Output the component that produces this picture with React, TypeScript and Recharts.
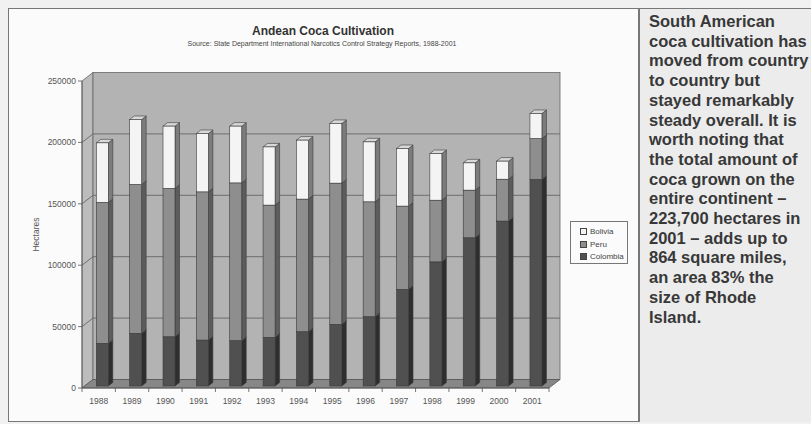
import React from 'react';
import { BarChart, Bar, XAxis, YAxis, ReferenceArea, Legend } from 'recharts';

// values (hectares)
const years = ['1988', '1989', '1990', '1991', '1992', '1993', '1994', '1995', '1996', '1997', '1998', '1999', '2000', '2001'];
const colombia = [34700, 42900, 40100, 37400, 36900, 39600, 44200, 50200, 56400, 78700, 101100, 120700, 134300, 168200];
const peru = [114800, 121200, 120800, 120700, 128500, 107700, 108000, 115000, 93600, 67800, 50200, 38800, 34100, 33300];
const bolivia = [48500, 52900, 50700, 47500, 46200, 47400, 48000, 48600, 48800, 46900, 38000, 22200, 14700, 20400];
const yTicks = [0, 50000, 100000, 150000, 200000, 250000];
const legendOrder = ['Bolivia', 'Peru', 'Colombia'];

const noteLines = [
  'South American',
  'coca cultivation has',
  'moved from country',
  'to country but',
  'stayed remarkably',
  'steady overall. It is',
  'worth noting that',
  'the total amount of',
  'coca grown on the',
  'entire continent –',
  '223,700 hectares in',
  '2001 – adds up to',
  '864 square miles,',
  'an area 83% the',
  'size of Rhode',
  'Island.',
];

const data = years.map((year, i) => ({
  year,
  Colombia: colombia[i],
  Peru: peru[i],
  Bolivia: bolivia[i],
}));

const Y_MAX = yTicks[yTicks.length - 1];
const PLOT_W = 467;
const BAND = PLOT_W / years.length;

// fake 3D depth
const WALL_DX = 11;
const WALL_DY = -8.5;
const BAR_DX = 4.5;
const BAR_DY = -3.5;

const Walls = (props: any) => {
  const { x, y, width, height } = props;
  const bottom = y + height;
  const grid = yTicks.filter((v) => v > 0 && v < Y_MAX);
  return (
    <g>
      <polygon
        points={`${x},${y} ${x + WALL_DX},${y + WALL_DY} ${x + WALL_DX},${bottom + WALL_DY} ${x},${bottom}`}
        fill="#bcbcbc"
        stroke="#666"
        strokeWidth={0.8}
      />
      <rect x={x + WALL_DX} y={y + WALL_DY} width={width} height={height} fill="#b3b3b3" stroke="#666" strokeWidth={0.8} />
      {grid.map((v) => {
        const yv = bottom - (height * v) / Y_MAX;
        return (
          <polyline
            key={v}
            points={`${x},${yv} ${x + WALL_DX},${yv + WALL_DY} ${x + width + WALL_DX},${yv + WALL_DY}`}
            fill="none"
            stroke="#666"
            strokeWidth={0.9}
          />
        );
      })}
      <polygon
        points={`${x},${bottom} ${x + width},${bottom} ${x + width + WALL_DX},${bottom + WALL_DY} ${x + WALL_DX},${bottom + WALL_DY}`}
        fill="#878787"
        stroke="#555"
        strokeWidth={0.8}
      />
    </g>
  );
};

const makeBar3D = (front: string, side: string, top: string) => (props: any) => {
  const { x, y, width, height } = props;
  if (!height) return <g />;
  const x0 = x + 3.3;
  const y0 = y - 2;
  const w = width;
  const h = height;
  return (
    <g stroke="#3a3a3a" strokeWidth={0.6}>
      <polygon
        points={`${x0 + w},${y0} ${x0 + w + BAR_DX},${y0 + BAR_DY} ${x0 + w + BAR_DX},${y0 + h + BAR_DY} ${x0 + w},${y0 + h}`}
        fill={side}
      />
      <polygon
        points={`${x0},${y0} ${x0 + BAR_DX},${y0 + BAR_DY} ${x0 + w + BAR_DX},${y0 + BAR_DY} ${x0 + w},${y0}`}
        fill={top}
      />
      <rect x={x0} y={y0} width={w} height={h} fill={front} />
    </g>
  );
};

const XTick = (props: any) => {
  const { x, y, payload, index } = props;
  const left = x - BAND / 2;
  return (
    <g>
      <line x1={left} y1={y} x2={left} y2={y + 4} stroke="#555" strokeWidth={0.8} />
      {index === years.length - 1 && (
        <line x1={x + BAND / 2} y1={y} x2={x + BAND / 2} y2={y + 4} stroke="#555" strokeWidth={0.8} />
      )}
      <text x={x} y={y + 16} textAnchor="middle" fontSize={8.5} fill="#555">
        {payload.value}
      </text>
    </g>
  );
};

const LegendBox = (props: any) => {
  const items = [...(props.payload || [])].sort(
    (a: any, b: any) => legendOrder.indexOf(a.value) - legendOrder.indexOf(b.value)
  );
  return (
    <div
      style={{
        border: '1px solid #777',
        background: '#fbfbfb',
        padding: '3px 0 3px 9px',
        fontFamily: 'Arial, "Liberation Sans", sans-serif',
        fontSize: 8,
        color: '#444',
        boxSizing: 'border-box',
        height: 43,
      }}
    >
      {items.map((it: any) => (
        <div key={it.value} style={{ display: 'flex', alignItems: 'center', height: 12.7 }}>
          <span
            style={{
              width: 5,
              height: 5,
              background: it.color,
              border: '0.8px solid #444',
              marginRight: 3,
              display: 'inline-block',
            }}
          />
          {it.value}
        </div>
      ))}
    </div>
  );
};

export default function App() {
  return (
    <div
      style={{
        position: 'absolute',
        left: 0,
        top: 0,
        width: 811,
        height: 424,
        background: '#f1f1f1',
        fontFamily: 'Arial, "Liberation Sans", sans-serif',
        overflow: 'hidden',
      }}
    >
      <div
        style={{
          position: 'absolute',
          left: 8,
          top: 8,
          width: 631,
          height: 414,
          border: '1px solid #777',
          background: '#fbfbfb',
          boxSizing: 'border-box',
        }}
      />
      <div
        style={{
          position: 'absolute',
          left: 639,
          top: 8,
          width: 172,
          height: 414,
          borderTop: '1px solid #777',
          borderLeft: '1px solid #777',
          background: '#ececec',
          boxSizing: 'border-box',
          padding: '3px 0 0 9px',
        }}
      >
        {noteLines.map((line) => (
          <div
            key={line}
            style={{ fontSize: 16.5, fontWeight: 'bold', color: '#383838', lineHeight: '19.7px', whiteSpace: 'nowrap' }}
          >
            {line}
          </div>
        ))}
      </div>
      <div
        style={{
          position: 'absolute',
          left: 0,
          width: 646,
          top: 24,
          textAlign: 'center',
          fontSize: 12,
          fontWeight: 'bold',
          color: '#333',
        }}
      >
        Andean Coca Cultivation
      </div>
      <div
        style={{
          position: 'absolute',
          left: 0,
          width: 644,
          top: 40,
          textAlign: 'center',
          fontSize: 7,
          color: '#444',
        }}
      >
        Source: State Department International Narcotics Control Strategy Reports, 1988-2001
      </div>
      <div style={{ position: 'absolute', left: 0, top: 0 }}>
        <BarChart
          width={640}
          height={424}
          data={data}
          margin={{ top: 81, right: 91, bottom: 16, left: 22 }}
          barSize={12}
        >
          <ReferenceArea y1={0} y2={Y_MAX} shape={Walls} ifOverflow="visible" />
          <XAxis
            dataKey="year"
            height={20}
            tickSize={0}
            tickMargin={0}
            tickLine={false}
            axisLine={{ stroke: '#555', strokeWidth: 0.8 }}
            tick={XTick}
            interval={0}
          />
          <YAxis
            width={60}
            domain={[0, Y_MAX]}
            ticks={yTicks}
            interval={0}
            tickSize={4}
            tickMargin={2}
            tick={{ fontSize: 8.5, fill: '#555' }}
            tickLine={{ stroke: '#555', strokeWidth: 0.8 }}
            axisLine={{ stroke: '#555', strokeWidth: 0.8 }}
            label={(p: any) => {
              const vb = p.viewBox || {};
              const cx = (vb.x ?? 22) + 15;
              const cy = (vb.y ?? 81) + (vb.height ?? 307) / 2;
              return (
                <text
                  x={cx}
                  y={cy}
                  transform={`rotate(-90 ${cx} ${cy})`}
                  textAnchor="middle"
                  dominantBaseline="middle"
                  fontSize={8.5}
                  fill="#555"
                >
                  Hectares
                </text>
              );
            }}
          />
          <Legend
            layout="vertical"
            align="center"
            verticalAlign="middle"
            wrapperStyle={{ left: 570, top: 221, width: 58, height: 43 }}
            content={LegendBox}
          />
          <Bar dataKey="Colombia" stackId="a" fill="#505050" shape={makeBar3D('#505050', '#2e2e2e', '#6a6a6a')} isAnimationActive={false} />
          <Bar dataKey="Peru" stackId="a" fill="#8e8e8e" shape={makeBar3D('#8e8e8e', '#5c5c5c', '#a8a8a8')} isAnimationActive={false} />
          <Bar dataKey="Bolivia" stackId="a" fill="#f4f4f4" shape={makeBar3D('#f4f4f4', '#7c7c7c', '#d8d8d8')} isAnimationActive={false} />
        </BarChart>
      </div>
    </div>
  );
}
